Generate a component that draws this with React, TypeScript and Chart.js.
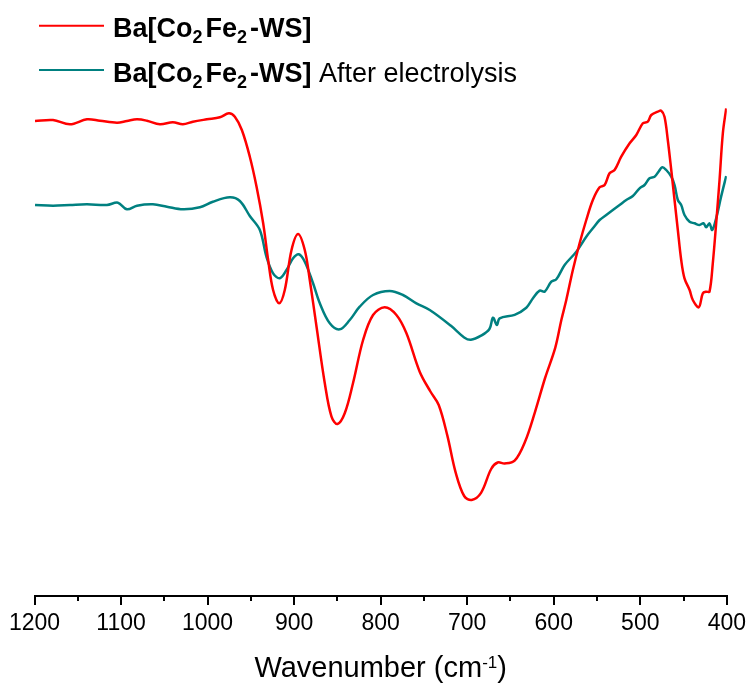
import React, { useEffect, useRef } from "react";
import { Chart, registerables } from "chart.js";

Chart.register(...registerables);

// Wavenumber (cm^-1) and relative transmittance (a.u.)
const redWavenumbers = [
  1199.4, 1178.6, 1159.0, 1139.4, 1124.4, 1104.7, 1093.2, 1081.6, 1070.1, 1055.1,
  1040.1, 1028.5, 1017.0, 1000.8, 985.8, 975.4, 968.5, 960.4, 951.2, 943.4,
  935.8, 930.0, 924.3, 917.3, 910.8, 903.0, 895.4, 887.7, 881.9, 874.1,
  864.6, 856.8, 849.9, 841.4, 831.9, 820.3, 808.8, 795.3, 781.8, 770.2,
  754.9, 742.5, 732.9, 723.0, 713.3, 703.5, 694.9, 684.0, 672.3, 664.8,
  656.7, 645.2, 633.3, 621.6, 610.0, 598.2, 591.2, 585.5, 577.9, 570.1,
  562.4, 554.8, 547.0, 541.2, 535.5, 529.7, 522.0, 512.3, 504.6, 497.0,
  491.3, 487.3, 479.7, 475.8, 472.0, 468.2, 464.2, 460.4, 456.6, 452.7,
  448.9, 443.0, 439.3, 432.4, 427.7, 423.8, 420.0, 416.2, 412.3, 408.4,
  404.6, 400.7,
];
const redValues = [
  475, 476, 471.7, 476.7, 475.3, 473.3, 475, 476.7, 475.3, 471.7,
  473.7, 471.7, 474.3, 476.7, 478.7, 482.7, 479.3, 466, 439.3, 409.3,
  373, 336, 306, 292.7, 306, 346, 362, 346, 316, 269.3,
  213, 179.3, 172, 183, 213, 256, 281, 288.7, 281, 262.7,
  224.3, 204.5, 191, 160.6, 123.4, 100, 96, 103.2, 127, 133.5,
  132.5, 135.3, 154, 184.2, 218, 248.4, 276, 296, 326, 352.7,
  376, 396, 408.7, 411, 422.7, 426, 439.3, 452.7, 461, 472.7,
  474.3, 481, 484.3, 485.3, 479.3, 456, 426, 396, 366, 336,
  317.7, 306, 296, 288.7, 302.7, 304.3, 304.3, 332.7, 372.7, 416,
  462.7, 487.7,
];

const tealWavenumbers = [
  1199.4, 1178.6, 1159.0, 1139.4, 1116.3, 1103.6, 1093.2, 1081.6, 1063.2, 1047.0,
  1028.5, 1008.9, 993.9, 974.3, 962.7, 951.2, 939.6, 932.0, 924.3, 916.5,
  908.8, 901.2, 894.6, 887.7, 878.1, 870.3, 858.8, 847.3, 835.7, 824.2,
  808.8, 789.6, 774.2, 758.7, 743.3, 719.1, 703.5, 695.7, 684.0, 674.3,
  670.2, 665.6, 662.5, 645.2, 631.7, 624.0, 616.3, 610.5, 602.8, 597.0,
  587.4, 573.9, 562.4, 554.8, 547.0, 539.3, 531.7, 523.9, 516.2, 508.6,
  500.8, 495.1, 489.3, 483.5, 478.9, 474.6, 470.0, 464.2, 460.4, 456.6,
  452.7, 448.9, 443.0, 437.3, 431.5, 426.9, 423.8, 420.0, 416.9, 412.3,
  406.6, 400.7,
];
const tealValues = [
  391, 390.3, 391, 391.7, 391, 393.3, 386.7, 390.3, 391.7, 389.3,
  386.7, 388.7, 394.3, 398.7, 395, 380, 366, 339.3, 322.7, 317.7,
  326, 337.7, 341.7, 334.3, 312.7, 292.7, 272.7, 266.7, 276, 289.3,
  301, 305, 301, 292.7, 286, 270.4, 258.6, 256.2, 260.3, 267,
  278.3, 271, 277.7, 281.2, 288.3, 297.7, 305.3, 304.3, 314.3, 316.7,
  331, 344.3, 359.3, 367.7, 376, 381, 386, 391, 396, 400,
  407.7, 411, 417.7, 419.3, 424.3, 428.7, 426, 419.3, 411, 396,
  391, 381, 374.3, 372.7, 371, 372.7, 368.7, 372.7, 366, 377.7,
  399.3, 420,
];

const majorTicks = [1200, 1100, 1000, 900, 800, 700, 600, 500, 400];
const minorTicks = [1150, 1050, 950, 850, 750, 650, 550, 450];

const seriesLabels = ["Ba[Co2Fe2-WS]", "Ba[Co2Fe2-WS] After electrolysis"];
const axisTitle = "Wavenumber (cm-1)";

const RED = "#ff0000";
const TEAL = "#008080";
const FONT = '"Liberation Sans", Arial, sans-serif';

const decorPlugin = {
  id: "decor",
  afterDraw(chart: any) {
    const ctx = chart.ctx as CanvasRenderingContext2D;
    const xs = chart.scales.x;
    const bottom = chart.chartArea.bottom;
    ctx.save();
    // minor ticks
    ctx.strokeStyle = "#000";
    ctx.lineWidth = 2;
    minorTicks.forEach((v) => {
      const px = Math.round(xs.getPixelForValue(v));
      ctx.beginPath();
      ctx.moveTo(px, bottom);
      ctx.lineTo(px, bottom + 5);
      ctx.stroke();
    });

    // legend
    const rows = [
      { color: RED, lineY: 25.7, base: 36.7, extra: "" },
      { color: TEAL, lineY: 70, base: 81.7, extra: " After electrolysis" },
    ];
    const bold = `bold 27px ${FONT}`;
    const sub = `bold 18px ${FONT}`;
    const normal = `27px ${FONT}`;
    rows.forEach((r) => {
      ctx.strokeStyle = r.color;
      ctx.lineWidth = 2;
      ctx.beginPath();
      ctx.moveTo(39, r.lineY);
      ctx.lineTo(104, r.lineY);
      ctx.stroke();
      ctx.fillStyle = "#000";
      ctx.textBaseline = "alphabetic";
      ctx.textAlign = "left";
      const segs: [string, string, number, number][] = [
        ["Ba[Co", bold, 0, 0],
        ["2", sub, 6.5, 3],
        ["Fe", bold, 0, 0],
        ["2", sub, 6.5, 3],
        ["-WS]", bold, 0, 0],
      ];
      if (r.extra) segs.push([r.extra, normal, 0, 0]);
      let x = 113;
      segs.forEach(([t, f, dy, gap]) => {
        ctx.font = f;
        ctx.fillText(t, x, r.base + dy);
        x += ctx.measureText(t).width + gap;
      });
    });

    // axis title
    const main1 = "Wavenumber (cm";
    const supT = "-1";
    const main2 = ")";
    const tf = `29px ${FONT}`;
    const sf = `17px ${FONT}`;
    ctx.font = tf;
    const w1 = ctx.measureText(main1).width;
    const w3 = ctx.measureText(main2).width;
    ctx.font = sf;
    const w2 = ctx.measureText(supT).width;
    const cx = (xs.left + xs.right) / 2;
    let tx = cx - (w1 + w2 + w3) / 2;
    const tb = 676.7;
    ctx.fillStyle = "#000";
    ctx.font = tf;
    ctx.fillText(main1, tx, tb);
    tx += w1;
    ctx.font = sf;
    ctx.fillText(supT, tx, tb - 9);
    tx += w2;
    ctx.font = tf;
    ctx.fillText(main2, tx, tb);
    ctx.restore();
  },
};

export default function App() {
  const ref = useRef<HTMLCanvasElement | null>(null);
  useEffect(() => {
    document.body.style.margin = "0";
    if (!ref.current) return;
    const chart = new Chart(ref.current, {
      type: "line",
      data: {
        datasets: [
          {
            label: seriesLabels[0],
            data: redWavenumbers.map((x, i) => ({ x, y: redValues[i] })),
            borderColor: RED,
            borderWidth: 2.5,
            pointRadius: 0,
            tension: 0.35,
            fill: false,
          },
          {
            label: seriesLabels[1],
            data: tealWavenumbers.map((x, i) => ({ x, y: tealValues[i] })),
            borderColor: TEAL,
            borderWidth: 2.5,
            pointRadius: 0,
            tension: 0.35,
            fill: false,
          },
        ],
      },
      options: {
        responsive: false,
        animation: false,
        layout: { padding: { left: 34.5, right: 24, top: 0, bottom: 0 } },
        plugins: {
          legend: { display: false },
          tooltip: { enabled: false },
          title: { display: false },
        },
        scales: {
          x: {
            type: "linear",
            reverse: true,
            min: 400,
            max: 1200,
            afterBuildTicks: (scale: any) => {
              scale.ticks = majorTicks.map((v) => ({ value: v }));
            },
            afterFit: (scale: any) => {
              scale.height = 89;
            },
            border: { display: true, color: "#000", width: 2 },
            grid: {
              drawOnChartArea: false,
              drawTicks: true,
              tickLength: 9,
              color: "#000",
              lineWidth: 2,
            },
            ticks: {
              autoSkip: false,
              maxRotation: 0,
              padding: 5,
              color: "#000",
              font: { family: FONT, size: 23 },
              callback: (v: any) => String(v),
            },
            title: { display: false, text: axisTitle },
          },
          y: {
            display: false,
            min: 0,
            max: 596,
          },
        },
      },
      plugins: [decorPlugin],
    });
    return () => chart.destroy();
  }, []);
  return (
    <div style={{ width: 751, height: 685, position: "relative", background: "#fff" }}>
      <canvas ref={ref} width={751} height={685} style={{ display: "block" }} />
    </div>
  );
}
